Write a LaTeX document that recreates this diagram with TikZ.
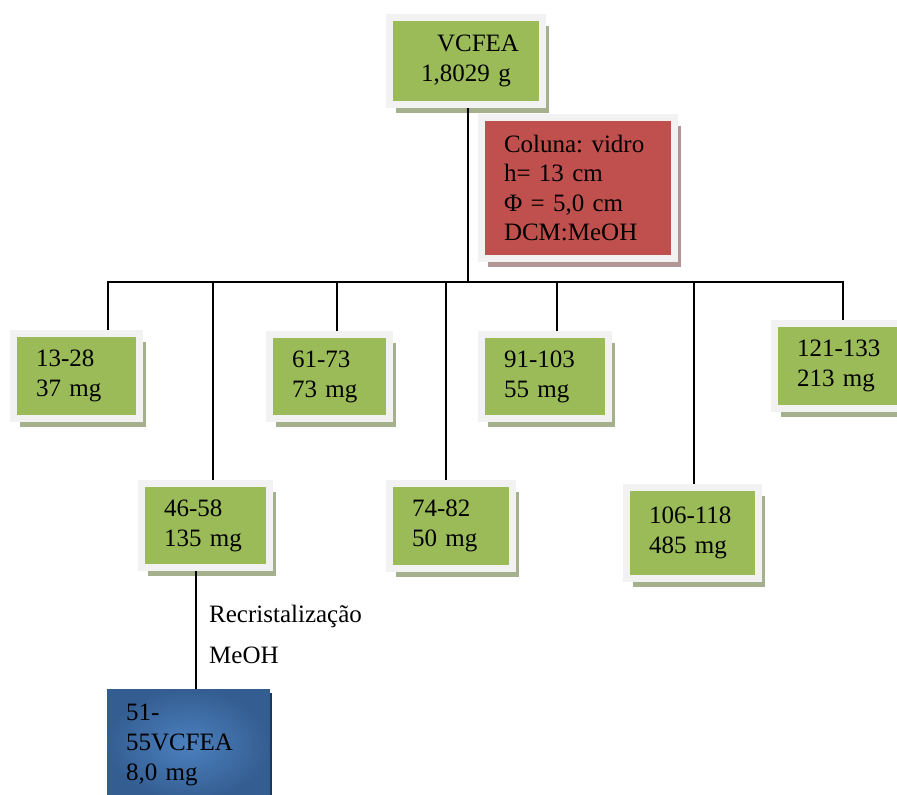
\documentclass[tikz,border=0pt]{standalone}
\usepackage{fontspec}
\setmainfont{Liberation Serif}
\usepackage{tikz}
\usetikzlibrary{positioning,shadows}

\definecolor{leaf}{RGB}{155,187,89}
\definecolor{frame}{RGB}{242,242,242}
\definecolor{brick}{RGB}{192,80,77}
\definecolor{shgreen}{RGB}{165,176,140}
\definecolor{shred}{RGB}{178,150,150}
\definecolor{bluemid}{RGB}{76,128,190}
\definecolor{blueedge}{RGB}{52,94,146}
\definecolor{bluedark}{RGB}{30,55,95}

\tikzset{
  boxfont/.style={font=\fontsize{25}{30}\selectfont\frenchspacing},
  % framed box, #1 = outer width, #2 = outer height
  frac/.style 2 args={boxfont, fill=leaf, draw=frame, line width=7pt,
    minimum width=#1pt-7pt, minimum height=#2pt-7pt,
    text width=#1pt-52pt, inner xsep=22.5pt, inner ysep=0pt, align=left,
    general shadow={shadow xshift=6.5pt, shadow yshift=-8.5pt, fill=shgreen}},
  link/.style={line width=1.3pt}
}

\begin{document}
\begin{tikzpicture}[x=1pt, y=-1pt]
    \useasboundingbox (0,0) rectangle (897,795);
    \clip (0,0) rectangle (897,795);

    % extract and column
    \node[frac={160}{94}, align=center] (top) at (466,61) {\hspace*{24pt}VCFEA\\1,8029 g};
    \node[frac={200}{148}, fill=brick, font=\fontsize{25}{29.5}\selectfont\frenchspacing,
      general shadow={shadow xshift=6.5pt, shadow yshift=-8.5pt, fill=shred}] (col) at (578,188)
      {Coluna: vidro\\h= 13 cm\\Φ = 5,0 cm\\DCM:MeOH};

    % fractions
    \node[frac={133}{92}] (f1) at (76.5,376) {13-28\\37 mg};
    \node[frac={135}{91}] (f2) at (205.5,525.5) {46-58\\135 mg};
    \node[frac={127}{91}] (f3) at (329.5,376.5) {61-73\\73 mg};
    \node[frac={130}{92}] (f4) at (451,526) {74-82\\50 mg};
    \node[frac={134}{91}] (f5) at (545,376.5) {91-103\\55 mg};
    \node[frac={139}{98}] (f6) at (692.5,533) {106-118\\485 mg};
    \node[frac={145}{92}] (f7) at (843.5,366) {121-133\\213 mg};

    % pure compound
    \node[boxfont, anchor=north, minimum width=162pt, inner xsep=19pt, inner ysep=14.5pt,
      text width=124pt, align=left, inner color=bluemid, outer color=blueedge,
      draw=blueedge, line width=0.8pt,
      general shadow={shadow xshift=3pt, shadow yshift=-4pt, fill=bluedark}] (pure) at (188,689)
      {51-\\55VCFEA\\8,0 mg};

    % tree
    \coordinate (bus) at (468,282);
    \draw[link] ([xshift=2pt]top.south) -- (bus);
    \draw[link] (bus) -| ([xshift=31.5pt]f1.north);
    \draw[link] (bus) -| ([xshift=7.5pt]f2.north);
    \draw[link] (bus) -| ([xshift=7.5pt]f3.north);
    \draw[link] (bus) -| ([xshift=-5pt]f4.north);
    \draw[link] (bus) -| ([xshift=12pt]f5.north);
    \draw[link] (bus) -| ([xshift=1.5pt]f6.north);
    \draw[link] (bus) -| ([xshift=-0.5pt]f7.north);
    \draw[link] ([xshift=-9.5pt]f2.south) -- ([xshift=8pt]pure.north);

    \node[font=\fontsize{25}{41}\selectfont, align=left, inner sep=0pt, anchor=north west]
      (recr) at (209,605) {Recristalização\\MeOH};
\end{tikzpicture}
\end{document}
